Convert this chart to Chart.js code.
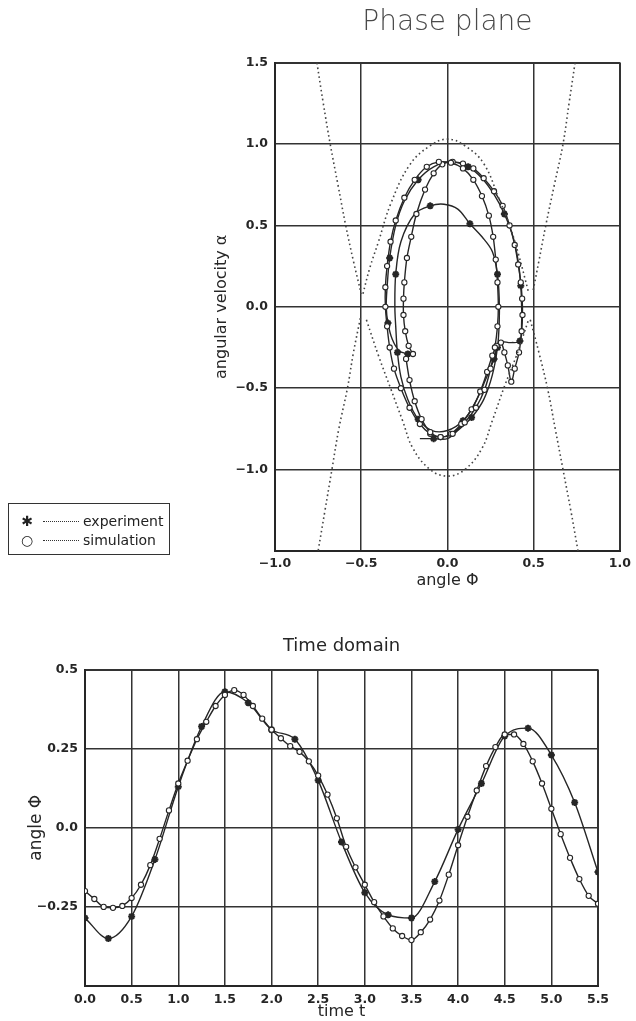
<!DOCTYPE html>
<html>
<head>
<meta charset="utf-8">
<script src="https://cdn.jsdelivr.net/npm/chart.js@4.4.1/dist/chart.umd.min.js"></script>
<style>
  body { margin: 0; background: #fff; width: 636px; height: 1021px; position: relative; overflow: hidden; font-family: "DejaVu Sans", sans-serif; color: #222; }
  #phaseCanvas { position: absolute; left: 0; top: 0; }
  #timeCanvas { position: absolute; left: 0; top: 600px; }
  #legendBox { position: absolute; left: 8px; top: 503px; width: 162px; height: 52px; border: 1.5px solid #333; box-sizing: border-box; font-size: 14px; }
  .legRow { position: absolute; left: 0; height: 18px; line-height: 18px; white-space: nowrap; }
  .legMark { position: absolute; left: 12px; width: 12px; text-align: center; }
  .legDots { position: absolute; left: 34px; width: 36px; top: 9px; border-top: 1.5px dotted #333; }
  .legText { position: absolute; left: 74px; }
</style>
</head>
<body>
<canvas id="phaseCanvas" width="636" height="600"></canvas>
<canvas id="timeCanvas" width="636" height="421"></canvas>
<div id="legendBox"></div>

<script>
// nombres de series y textos
const seriesNames = ["experiment", "simulation"];
const phaseTitle = "Phase plane";
const timeTitle = "Time domain";

// etiquetas de los ejes (de menor a mayor)
const phaseXTickLabels = ["−1.0", "−0.5", "0.0", "0.5", "1.0"];
const phaseYTickLabels = ["", "−1.0", "−0.5", "0.0", "0.5", "1.0", "1.5"];
const timeXTickLabels = ["0.0", "0.5", "1.0", "1.5", "2.0", "2.5", "3.0", "3.5", "4.0", "4.5", "5.0", "5.5"];
const timeYTickLabels = ["", "−0.25", "0.0", "0.25", "0.5"];

// dominio del tiempo: experimento (cada 0.25 s)
const expTime = [0, 0.25, 0.5, 0.75, 1.0, 1.25, 1.5, 1.75, 2.0, 2.25, 2.5, 2.75, 3.0, 3.25, 3.5, 3.75, 4.0, 4.25, 4.5, 4.75, 5.0, 5.25, 5.5];
const expAngle = [-0.285, -0.35, -0.28, -0.10, 0.13, 0.32, 0.43, 0.395, 0.31, 0.28, 0.15, -0.045, -0.205, -0.275, -0.285, -0.17, -0.005, 0.14, 0.29, 0.315, 0.23, 0.08, -0.14];

// dominio del tiempo: simulación (cada 0.1 s)
const simTime = [0, 0.1, 0.2, 0.3, 0.4, 0.5, 0.6, 0.7, 0.8, 0.9, 1.0, 1.1, 1.2, 1.3, 1.4, 1.5, 1.6, 1.7, 1.8, 1.9,
  2.0, 2.1, 2.2, 2.3, 2.4, 2.5, 2.6, 2.7, 2.8, 2.9, 3.0, 3.1, 3.2, 3.3, 3.4, 3.5, 3.6, 3.7, 3.8, 3.9,
  4.0, 4.1, 4.2, 4.3, 4.4, 4.5, 4.6, 4.7, 4.8, 4.9, 5.0, 5.1, 5.2, 5.3, 5.4, 5.5];
const simAngle = [-0.20, -0.225, -0.25, -0.253, -0.247, -0.222, -0.18, -0.118, -0.035, 0.055, 0.14, 0.212, 0.28, 0.335, 0.385, 0.42, 0.435, 0.42, 0.385, 0.345,
  0.31, 0.283, 0.258, 0.24, 0.21, 0.165, 0.105, 0.03, -0.06, -0.125, -0.18, -0.235, -0.28, -0.318, -0.342, -0.355, -0.33, -0.29, -0.23, -0.148,
  -0.055, 0.035, 0.118, 0.195, 0.255, 0.295, 0.295, 0.265, 0.21, 0.14, 0.06, -0.02, -0.095, -0.162, -0.215, -0.24];

// plano de fase: trayectorias [ángulo, velocidad]
const expPhase = [[-0.23, -0.29], [-0.28, -0.27], [-0.32, -0.20], [-0.345, -0.10], [-0.355, 0.0], [-0.35, 0.12], [-0.335, 0.30], [-0.30, 0.50],
  [-0.25, 0.65], [-0.17, 0.78], [-0.08, 0.86], [0.02, 0.89], [0.12, 0.86], [0.20, 0.79], [0.27, 0.69], [0.33, 0.57], [0.38, 0.43],
  [0.41, 0.28], [0.425, 0.13], [0.43, 0.0], [0.43, -0.10], [0.42, -0.21], [0.37, -0.22], [0.30, -0.22], [0.27, -0.32], [0.22, -0.45],
  [0.16, -0.59], [0.09, -0.70], [0.0, -0.76], [-0.09, -0.76], [-0.17, -0.69], [-0.23, -0.57], [-0.27, -0.43], [-0.29, -0.28],
  [-0.30, -0.12], [-0.305, 0.0], [-0.30, 0.20], [-0.27, 0.40], [-0.19, 0.57], [-0.10, 0.62], [-0.02, 0.63], [0.06, 0.60], [0.13, 0.51],
  [0.20, 0.43], [0.26, 0.34], [0.29, 0.20], [0.30, 0.05], [0.30, -0.10], [0.29, -0.25], [0.26, -0.42], [0.21, -0.57], [0.14, -0.68],
  [0.06, -0.76], [0.0, -0.81], [-0.08, -0.81], [-0.16, -0.81]];
const simPhase = [[-0.20, -0.29], [-0.225, -0.24], [-0.245, -0.15], [-0.255, -0.05], [-0.255, 0.05], [-0.25, 0.15], [-0.235, 0.30], [-0.21, 0.43],
  [-0.18, 0.57], [-0.13, 0.72], [-0.08, 0.82], [-0.03, 0.875], [0.03, 0.89], [0.09, 0.88], [0.15, 0.85], [0.21, 0.79], [0.27, 0.71],
  [0.32, 0.62], [0.36, 0.50], [0.39, 0.38], [0.41, 0.26], [0.425, 0.15], [0.433, 0.05], [0.435, -0.05], [0.43, -0.15], [0.415, -0.28],
  [0.39, -0.38], [0.37, -0.46], [0.35, -0.36], [0.33, -0.28], [0.31, -0.22], [0.285, -0.24], [0.26, -0.30], [0.23, -0.40], [0.19, -0.52],
  [0.14, -0.63], [0.08, -0.72], [0.02, -0.78], [-0.04, -0.80], [-0.10, -0.78], [-0.16, -0.72], [-0.22, -0.62], [-0.27, -0.50],
  [-0.31, -0.38], [-0.335, -0.25], [-0.35, -0.12], [-0.36, 0.0], [-0.36, 0.12], [-0.35, 0.25], [-0.33, 0.40], [-0.30, 0.53],
  [-0.25, 0.67], [-0.19, 0.78], [-0.12, 0.86], [-0.05, 0.89], [0.02, 0.885], [0.09, 0.85], [0.15, 0.78], [0.20, 0.68], [0.24, 0.56],
  [0.265, 0.43], [0.28, 0.29], [0.29, 0.15], [0.295, 0.0], [0.29, -0.12], [0.275, -0.25], [0.25, -0.38], [0.215, -0.51], [0.165, -0.62],
  [0.10, -0.71], [0.03, -0.78], [-0.04, -0.80], [-0.10, -0.77], [-0.15, -0.69], [-0.19, -0.58], [-0.22, -0.45], [-0.24, -0.32]];

// separatrices punteadas
const sepInnerTop = [[-0.49, 0.08], [-0.45, 0.24], [-0.40, 0.40], [-0.33, 0.63], [-0.22, 0.87], [-0.10, 0.99], [0, 1.03], [0.10, 0.99],
  [0.21, 0.88], [0.30, 0.66], [0.36, 0.50], [0.41, 0.33], [0.47, 0.09]];
const sepInnerBottom = [[-0.47, -0.08], [-0.40, -0.30], [-0.33, -0.50], [-0.26, -0.70], [-0.20, -0.87], [-0.10, -1.0], [0, -1.04],
  [0.10, -1.0], [0.20, -0.87], [0.26, -0.70], [0.33, -0.49], [0.40, -0.30], [0.47, -0.08]];
const sepUpperLeft = [[-0.757, 1.5], [-0.72, 1.25], [-0.68, 1.0], [-0.635, 0.75], [-0.59, 0.5], [-0.545, 0.28], [-0.50, 0.08]];
const sepLowerLeft = [[-0.505, -0.07], [-0.545, -0.28], [-0.58, -0.5], [-0.63, -0.75], [-0.67, -1.0], [-0.71, -1.25], [-0.75, -1.5]];
const sepUpperRight = [[0.74, 1.5], [0.705, 1.25], [0.67, 1.0], [0.62, 0.75], [0.57, 0.5], [0.53, 0.28], [0.495, 0.09]];
const sepLowerRight = [[0.48, -0.08], [0.53, -0.28], [0.58, -0.5], [0.625, -0.75], [0.67, -1.0], [0.715, -1.25], [0.757, -1.5]];

const ink = "#262626";
const tickFont = { family: "DejaVu Sans", size: 12.5, weight: "bold" };

function toPoints(pairs) {
  return pairs.map(p => ({ x: p[0], y: p[1] }));
}
function zipPoints(xs, ys) {
  return xs.map((x, i) => ({ x: x, y: ys[i] }));
}

// líneas de cuadrícula: marco exterior más grueso
function gridWidth(ctx) {
  const n = ctx.scale.ticks.length;
  return (ctx.index === 0 || ctx.index === n - 1) ? 2 : 1.5;
}

function sepDataset(pairs) {
  return {
    data: toPoints(pairs),
    showLine: true,
    borderColor: "#444",
    borderWidth: 1.6,
    borderDash: [1.6, 3],
    pointRadius: 0,
    tension: 0.4,
    fill: false
  };
}

// ---- Plano de fase ----
new Chart(document.getElementById("phaseCanvas"), {
  type: "scatter",
  data: {
    datasets: [
      sepDataset(sepInnerTop),
      sepDataset(sepInnerBottom),
      sepDataset(sepUpperLeft),
      sepDataset(sepLowerLeft),
      sepDataset(sepUpperRight),
      sepDataset(sepLowerRight),
      {
        label: seriesNames[1],
        data: toPoints(simPhase),
        showLine: true,
        borderColor: ink,
        borderWidth: 1.4,
        tension: 0.35,
        pointStyle: "circle",
        pointRadius: 2.6,
        pointBorderWidth: 1.1,
        pointBorderColor: ink,
        pointBackgroundColor: "#fff"
      },
      {
        label: seriesNames[0],
        data: toPoints(expPhase),
        showLine: true,
        borderColor: ink,
        borderWidth: 1.4,
        tension: 0.35,
        pointStyle: "star",
        pointRadius: (c) => (c.dataIndex % 3 === 0 ? 3.5 : 0),
        pointBorderWidth: 2,
        pointBorderColor: ink,
        pointBackgroundColor: ink
      }
    ]
  },
  options: {
    responsive: false,
    animation: false,
    layout: { padding: { left: 205, right: 16, top: 0, bottom: 10 } },
    plugins: {
      legend: { display: false },
      tooltip: { enabled: false },
      title: {
        display: true,
        fullSize: false,
        text: phaseTitle,
        color: "#4a4a4a",
        font: { family: "DejaVu Sans", size: 28, weight: 200 },
        padding: { top: 6, bottom: 23 }
      }
    },
    scales: {
      x: {
        type: "linear",
        min: -1, max: 1,
        ticks: {
          stepSize: 0.5, padding: 5, color: ink, font: tickFont,
          callback: (v, i) => phaseXTickLabels[i]
        },
        grid: { color: "#333", lineWidth: gridWidth, drawTicks: false },
        border: { color: ink, width: 2 },
        title: {
          display: true, text: "angle Φ", color: ink,
          font: { family: "DejaVu Sans", size: 16 },
          padding: { top: 0, bottom: 0 }
        },
        afterFit: (s) => { s.height = 39; }
      },
      y: {
        type: "linear",
        min: -1.5, max: 1.5,
        ticks: {
          stepSize: 0.5, padding: 7, color: ink, font: tickFont,
          callback: (v, i) => phaseYTickLabels[i]
        },
        grid: { color: "#333", lineWidth: gridWidth, drawTicks: false },
        border: { color: ink, width: 2 },
        title: {
          display: true, text: "angular velocity α", color: ink,
          font: { family: "DejaVu Sans", size: 16 },
          padding: { top: 7, bottom: 0 }
        },
        afterFit: (s) => { s.width = 70; }
      }
    }
  }
});

// ---- Dominio del tiempo ----
new Chart(document.getElementById("timeCanvas"), {
  type: "line",
  data: {
    datasets: [
      {
        label: seriesNames[1],
        data: zipPoints(simTime, simAngle),
        borderColor: ink,
        borderWidth: 1.4,
        cubicInterpolationMode: "monotone",
        pointStyle: "circle",
        pointRadius: 2.6,
        pointBorderWidth: 1.1,
        pointBorderColor: ink,
        pointBackgroundColor: "#fff"
      },
      {
        label: seriesNames[0],
        data: zipPoints(expTime, expAngle),
        borderColor: ink,
        borderWidth: 1.4,
        cubicInterpolationMode: "monotone",
        pointStyle: "star",
        pointRadius: 3.5,
        pointBorderWidth: 2,
        pointBorderColor: ink,
        pointBackgroundColor: ink
      }
    ]
  },
  options: {
    responsive: false,
    animation: false,
    layout: { padding: { left: 18, right: 38, top: 0, bottom: 0 } },
    plugins: {
      legend: { display: false },
      tooltip: { enabled: false },
      title: {
        display: true,
        fullSize: false,
        text: timeTitle,
        color: ink,
        font: { family: "DejaVu Sans", size: 18, weight: "normal" },
        padding: { top: 36, bottom: 12 }
      }
    },
    scales: {
      x: {
        type: "linear",
        min: 0, max: 5.5,
        ticks: {
          stepSize: 0.5, padding: 6, color: ink, font: tickFont,
          callback: (v, i) => timeXTickLabels[i]
        },
        grid: { color: "#333", lineWidth: gridWidth, drawTicks: false },
        border: { color: ink, width: 2 },
        title: {
          display: true, text: "time t", color: ink,
          font: { family: "DejaVu Sans", size: 16 },
          padding: { top: 0, bottom: 0 }
        },
        afterFit: (s) => { s.height = 35; }
      },
      y: {
        type: "linear",
        min: -0.5, max: 0.5,
        ticks: {
          stepSize: 0.25, padding: 7, color: ink, font: tickFont,
          callback: (v, i) => timeYTickLabels[i]
        },
        grid: { color: "#333", lineWidth: gridWidth, drawTicks: false },
        border: { color: ink, width: 2 },
        title: {
          display: true, text: "angle Φ", color: ink,
          font: { family: "DejaVu Sans", size: 17 },
          padding: { top: 8, bottom: 0 }
        },
        afterFit: (s) => { s.width = 67; }
      }
    }
  }
});

// ---- Leyenda (caja a la izquierda) ----
const legendMarks = ["✱", "○"];
const legendBox = document.getElementById("legendBox");
seriesNames.forEach((name, i) => {
  const row = document.createElement("div");
  row.className = "legRow";
  row.style.top = (8 + i * 19) + "px";
  row.style.width = "100%";
  row.innerHTML = `<span class="legMark">${legendMarks[i]}</span><span class="legDots"></span><span class="legText">${name}</span>`;
  legendBox.appendChild(row);
});
</script>
</body>
</html>
